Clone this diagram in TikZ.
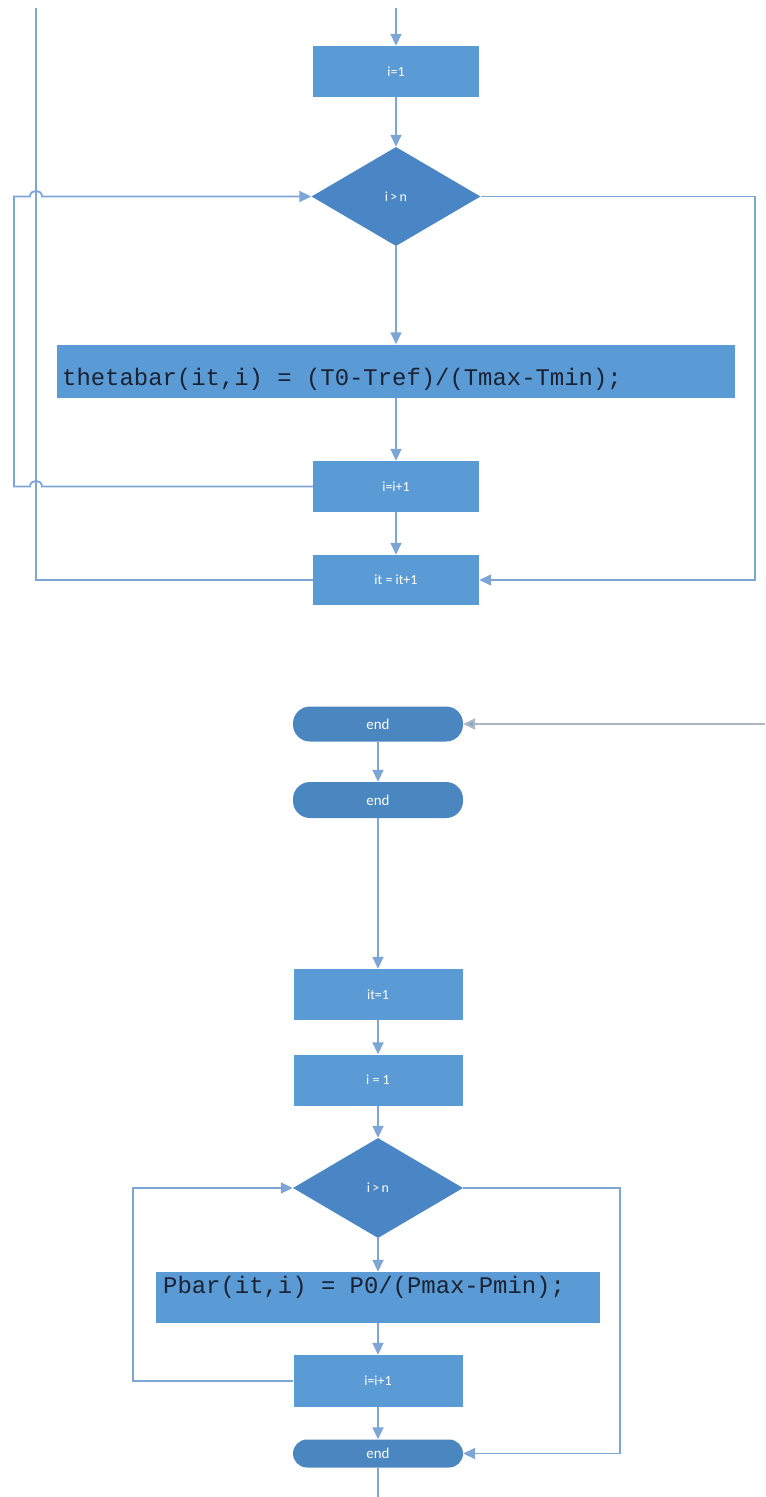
\documentclass[tikz,border=0pt]{standalone}
\usepackage{fontspec}
\newfontfamily\boxfont{Carlito}
\newfontfamily\codefont{Liberation Mono}
\usetikzlibrary{shapes.geometric,arrows.meta}
\definecolor{boxblue}{HTML}{5B9BD5}
\definecolor{darkblue}{HTML}{4A86C5}
\definecolor{termblue}{HTML}{4A86C0}
\definecolor{linec}{HTML}{7DA5D6}
\definecolor{greyline}{HTML}{AEB6C0}
\definecolor{codec}{HTML}{1A2233}
\tikzset{
  procbox/.style={draw=none, fill=boxblue, minimum width=166bp, minimum height=51bp, inner sep=0pt,
    text=white, font=\boxfont\fontsize{14}{16}\selectfont},
  decide/.style={diamond, draw=none, fill=darkblue, minimum width=169bp, minimum height=99bp, inner sep=0pt,
    text=white, font=\boxfont\fontsize{14}{16}\selectfont},
  termbox/.style={draw=none, fill=termblue, minimum width=170bp, minimum height=35bp, inner sep=0pt,
    rounded corners=17bp, text=white, font=\boxfont\fontsize{15}{17}\selectfont},
  codebox/.style={draw=none, fill=boxblue, inner sep=0pt},
  codetext/.style={inner sep=0pt, text=codec, font=\codefont\fontsize{24}{26}\selectfont},
  conn/.style={draw=linec, line width=1.8bp},
  flow/.style={conn, -{Triangle[length=12bp,width=11bp]}},
  greyflow/.style={draw=greyline, line width=2.2bp, -{Triangle[length=12bp,width=11bp,fill=linec]}},
}
\begin{document}
\begin{tikzpicture}[x=1bp,y=-1bp]
\useasboundingbox (0,0) rectangle (765,1497);
% ---------- upper section ----------
\coordinate (top) at (396,8);
\node[procbox] (b1) at (396,71.5) {i=1};
\node[decide] (d1) at (396,196.5) {i\,>\,n};
\node[codebox, minimum width=677bp, minimum height=53bp] (L1) at (396,371) {};
\node[codetext, anchor=west] (L1t) at (62,379) {thetabar(it,i) = (T0-Tref)/(Tmax-Tmin);};
\node[procbox] (b2) at (396,486.5) {i=i+1};
\node[procbox, minimum height=50bp] (b3) at (396,580) {it = it+1};
\coordinate (outtop) at (36,8);

\draw[flow] (top) -- (b1.north);
\draw[flow] (b1.south) -- (d1.north);
\draw[flow] (d1.south) -- (L1.north);
\draw[flow] (L1.south) -- (b2.north);
\draw[flow] (b2.south) -- (b3.north);
% inner loop back to decision, hopping over the outer line
\draw[flow] (b2.west) -- (42,486.5) .. controls (42,479) and (30,479) .. (30,486.5) -- (14,486.5)
  -- (14,196.5) -- (30,196.5) .. controls (30,189) and (42,189) .. (42,196.5) -- (d1.west);
\draw[flow] (d1.east) -- (755,196.5) -- (755,580) -- (b3.east);
\draw[conn] (b3.west) -- (36,580) -- (outtop);

% ---------- lower section ----------
\coordinate (rin) at (765,724);
\node[termbox] (e1) at (378,724) {end};
\node[termbox, minimum height=36bp] (e2) at (378,800) {end};
\node[procbox, minimum width=169bp] (b4) at (378,994.5) {it=1};
\node[procbox, minimum width=169bp] (b5) at (378,1080) {i = 1};
\node[decide, minimum width=170bp, minimum height=100bp] (d2) at (378,1188) {i\,>\,n};
\node[codebox, minimum width=443bp, minimum height=51bp] (P1) at (378,1297.5) {};
\node[codetext, anchor=west] (P1t) at (163,1287) {Pbar(it,i) = P0/(Pmax-Pmin);};
\node[procbox, minimum width=169bp, minimum height=52bp] (b6) at (378,1381) {i=i+1};
\node[termbox, minimum height=28bp, rounded corners=14bp] (e3) at (378,1453.5) {end};
\coordinate (bot) at (378,1497);

\draw[greyflow] (rin) -- (e1.east);
\draw[flow] (e1.south) -- (e2.north);
\draw[flow] (e2.south) -- (b4.north);
\draw[flow] (b4.south) -- (b5.north);
\draw[flow] (b5.south) -- (d2.north);
\draw[flow] (d2.south) -- (P1.north);
\draw[flow] (P1.south) -- (b6.north);
\draw[flow] (b6.south) -- (e3.north);
\draw[conn] (e3.south) -- (bot);
\draw[flow] (b6.west) -- (133,1381) -- (133,1188) -- (d2.west);
\draw[flow] (d2.east) -- (620,1188) -- (620,1453.5) -- (e3.east);
\end{tikzpicture}
\end{document}
